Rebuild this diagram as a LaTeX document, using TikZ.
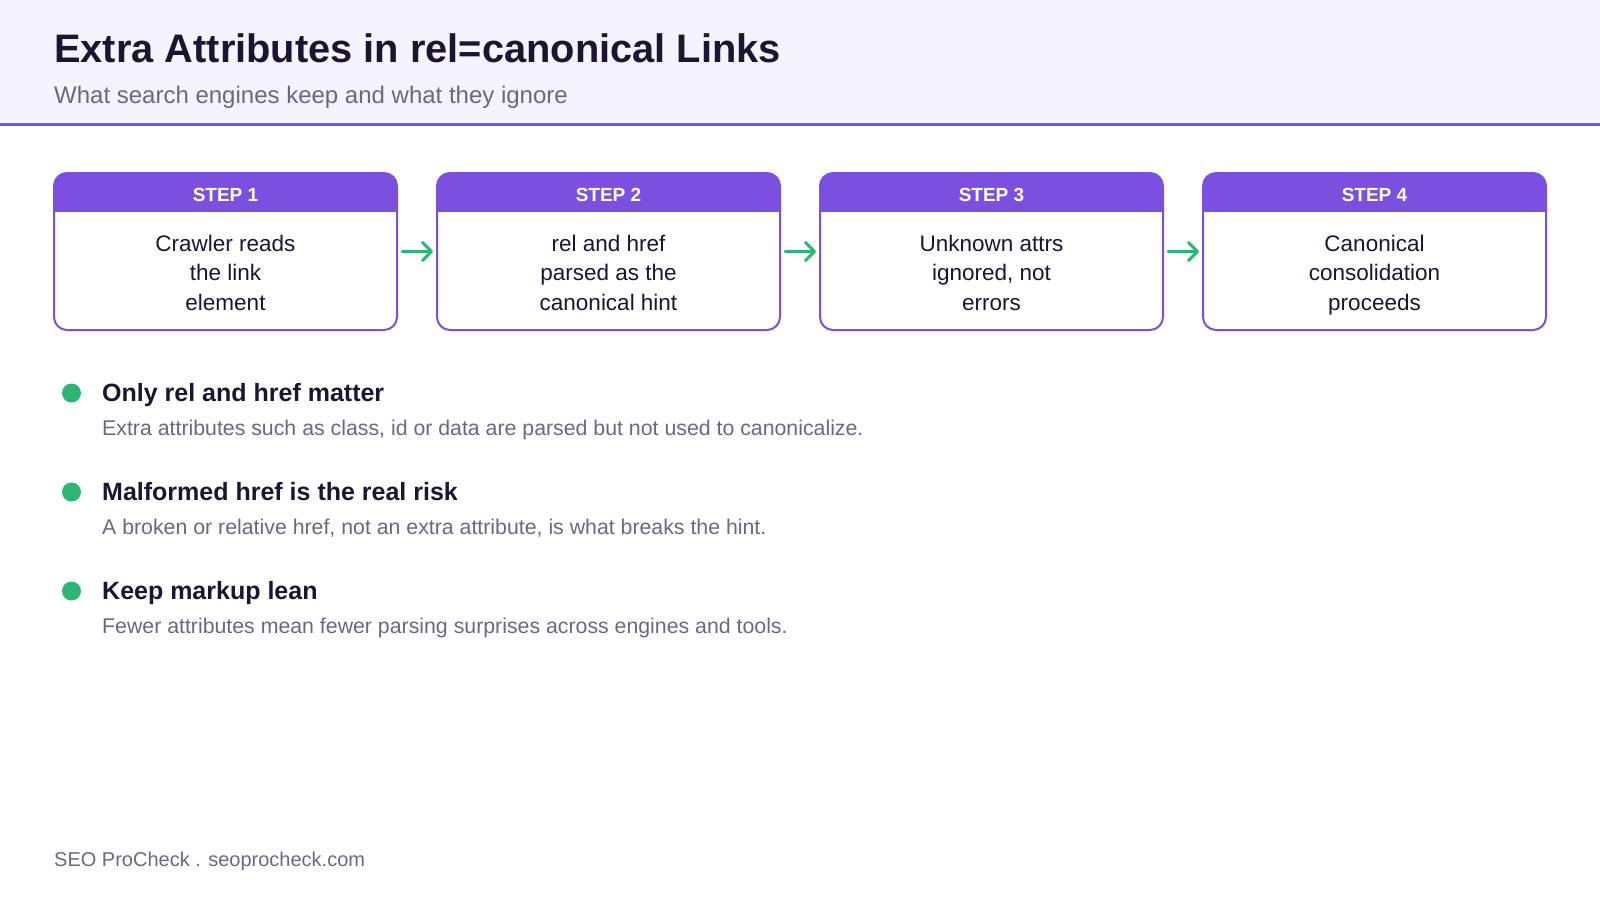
\documentclass[tikz,border=0pt]{standalone}
\usepackage{fontspec}
\setmainfont{Liberation Sans}
\usetikzlibrary{positioning,arrows.meta}
\definecolor{bandfill}{HTML}{F5F3FE}
\definecolor{stepviolet}{HTML}{7B50E0}
\definecolor{inkdark}{HTML}{1C1433}
\definecolor{inkgray}{HTML}{6B6683}
\definecolor{pointgreen}{HTML}{2DB673}

\begin{document}
\begin{tikzpicture}[x=1pt, y=-1pt,
    stepbox/.style={draw=stepviolet, line width=2pt, rounded corners=13pt, fill=white,
        minimum width=343pt, minimum height=157pt, inner sep=0pt,
        path picture={\fill[stepviolet, sharp corners] (path picture bounding box.north west) rectangle ([yshift=-39pt]path picture bounding box.north east);}},
    steplabel/.style={text=white, font=\fontsize{19}{22}\selectfont\bfseries, inner sep=0pt},
    stepbody/.style={text=inkdark, align=center, font=\fontsize{22.5}{29.6}\selectfont, inner sep=0pt, text depth=0pt},
    flowarrow/.style={draw=pointgreen, line width=3pt, line cap=round,
        -{Straight Barb[length=9pt, width=18pt, round]}, shorten <=4pt, shorten >=3pt},
    bulletdot/.style={circle, fill=pointgreen, minimum size=19pt, inner sep=0pt},
    pointhead/.style={text=inkdark, font=\fontsize{25}{30}\selectfont\bfseries, anchor=base west, inner sep=0pt},
    pointtext/.style={text=inkgray, font=\fontsize{21.3}{25}\selectfont, anchor=base west, inner sep=0pt}]
\useasboundingbox (0,0) rectangle (1600,900);
\fill[bandfill] (0,0) rectangle (1600,123);
\draw[stepviolet, line width=3pt] (0,124.5) -- (1600,124.5);
\node[text=inkdark, font=\fontsize{39.8}{46}\selectfont\bfseries, anchor=base west, inner sep=0pt] (title) at (54,62) {Extra Attributes in rel=canonical Links};
\node[text=inkgray, font=\fontsize{24}{28}\selectfont, anchor=base west, inner sep=0pt] (subtitle) at (54,103) {What search engines keep and what they ignore};

\node[stepbox] (box1) at (225.5,251.5) {};
\node[stepbox, right=38pt of box1] (box2) {};
\node[stepbox, right=38pt of box2] (box3) {};
\node[stepbox, right=38pt of box3] (box4) {};
\node[steplabel, anchor=base] (lab1) at ([yshift=-29pt]box1.north) {STEP 1};
\node[steplabel, anchor=base] (lab2) at ([yshift=-29pt]box2.north) {STEP 2};
\node[steplabel, anchor=base] (lab3) at ([yshift=-29pt]box3.north) {STEP 3};
\node[steplabel, anchor=base] (lab4) at ([yshift=-29pt]box4.north) {STEP 4};
\node[stepbody] (body1) at ([yshift=-21pt]box1.center) {Crawler reads\\the link\\element};
\node[stepbody] (body2) at ([yshift=-21pt]box2.center) {rel and href\\parsed as the\\canonical hint};
\node[stepbody] (body3) at ([yshift=-21pt]box3.center) {Unknown attrs\\ignored, not\\errors};
\node[stepbody] (body4) at ([yshift=-21pt]box4.center) {Canonical\\consolidation\\proceeds};
\draw[flowarrow] (box1.east) -- (box2.west);
\draw[flowarrow] (box2.east) -- (box3.west);
\draw[flowarrow] (box3.east) -- (box4.west);

\node[bulletdot] (dot1) at (71.5,393) {};
\node[pointhead] (head1) at (102,401) {Only rel and href matter};
\node[pointtext] (text1) at (102,435) {Extra attributes such as class, id or data are parsed but not used to canonicalize.};
\node[bulletdot] (dot2) at (71.5,492) {};
\node[pointhead] (head2) at (102,500) {Malformed href is the real risk};
\node[pointtext] (text2) at (102,534) {A broken or relative href, not an extra attribute, is what breaks the hint.};
\node[bulletdot] (dot3) at (71.5,591) {};
\node[pointhead] (head3) at (102,599) {Keep markup lean};
\node[pointtext] (text3) at (102,633) {Fewer attributes mean fewer parsing surprises across engines and tools.};

\node[text=inkgray, font=\fontsize{20}{24}\selectfont, anchor=base west, inner sep=0pt] (footer) at (54,866) {SEO ProCheck . seoprocheck.com};
\end{tikzpicture}
\end{document}
